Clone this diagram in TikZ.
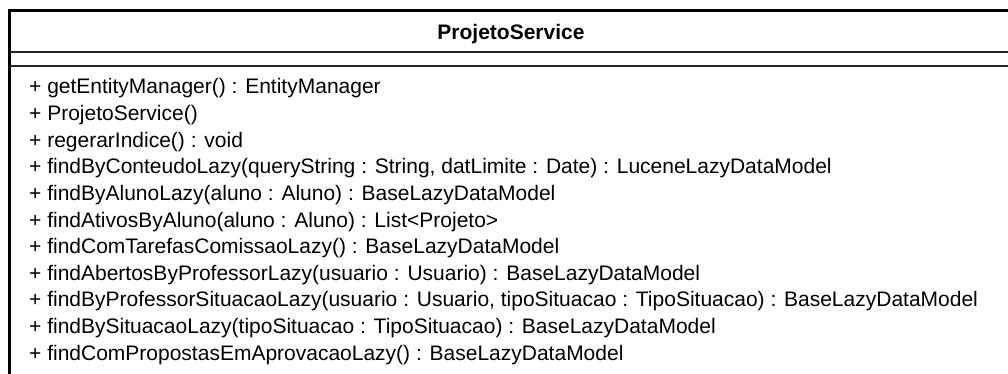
\documentclass[tikz,border=0pt]{standalone}
\usepackage{fontspec}
\setmainfont{Liberation Sans}
\begin{document}
\begin{tikzpicture}[x=1pt, y=-1pt,
  classframe/.style={line width=3pt, black},
  compartment/.style={line width=1.3pt, black!85},
  classname/.style={anchor=base, inner sep=0pt, font=\fontsize{21}{25}\selectfont\bfseries},
  member/.style={anchor=base west, inner sep=0pt, font=\fontsize{21}{25}\selectfont}]
  % page
  \useasboundingbox (0,0) rectangle (1008,374);
  \fill[white] (0,0) rectangle (1008,374);
  \begin{scope}
    \clip (0,0) rectangle (1008,374);
    % class box, running past the page edges
    \draw[classframe] (9.5,11) rectangle (1014,400);
    \draw[compartment] (9.5,52) -- (1014,52);
    \draw[compartment] (9.5,66) -- (1014,66);
  \end{scope}
  % class name
  \node[classname] (name) at (511,40) {ProjetoService};
  % operations
  \foreach \txt [count=\k from 0] in {
    {+ getEntityManager() : EntityManager},
    {+ ProjetoService()},
    {+ regerarIndice() : void},
    {+ findByConteudoLazy(queryString : String, datLimite : Date) : LuceneLazyDataModel},
    {+ findByAlunoLazy(aluno : Aluno) : BaseLazyDataModel},
    {+ findAtivosByAluno(aluno : Aluno) : List<Projeto>},
    {+ findComTarefasComissaoLazy() : BaseLazyDataModel},
    {+ findAbertosByProfessorLazy(usuario : Usuario) : BaseLazyDataModel},
    {+ findByProfessorSituacaoLazy(usuario : Usuario, tipoSituacao : TipoSituacao) : BaseLazyDataModel},
    {+ findBySituacaoLazy(tipoSituacao : TipoSituacao) : BaseLazyDataModel},
    {+ findComPropostasEmAprovacaoLazy() : BaseLazyDataModel}}
    \node[member] (op\k) at (29,94+26.6*\k) {\txt};
\end{tikzpicture}
\end{document}
